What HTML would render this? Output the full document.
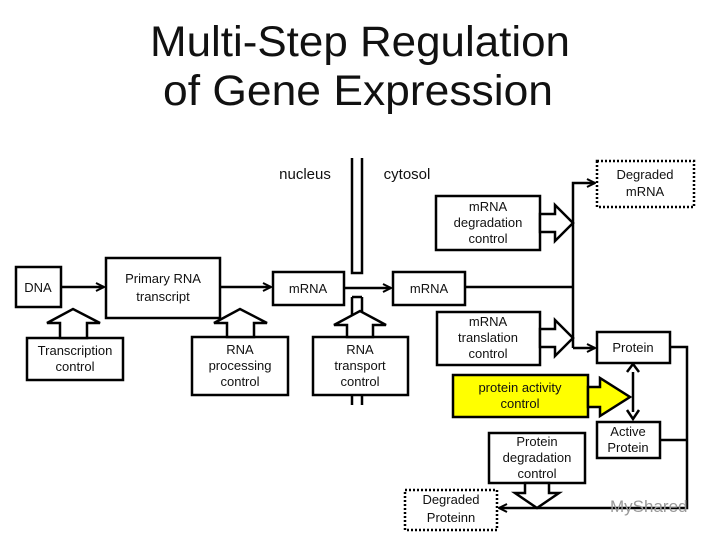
<!DOCTYPE html>
<html><head><meta charset="utf-8"><style>
html,body{margin:0;padding:0;background:#fff;}
svg{display:block;}
text{font-family:"Liberation Sans",sans-serif;fill:#111;}
.t{font-size:13px;text-anchor:middle;}
</style></head><body>
<svg width="720" height="540" viewBox="0 0 720 540" xmlns="http://www.w3.org/2000/svg">
<defs>
<marker id="ah" markerWidth="10" markerHeight="10" refX="9" refY="5" orient="auto" markerUnits="userSpaceOnUse">
<path d="M1,1 L9,5 L1,9" fill="none" stroke="#000" stroke-width="2"/>
</marker>
</defs>
<text x="360" y="56" font-size="43" text-anchor="middle" textLength="420" lengthAdjust="spacingAndGlyphs">Multi-Step Regulation</text>
<text x="358" y="105" font-size="43" text-anchor="middle" textLength="390" lengthAdjust="spacingAndGlyphs">of Gene Expression</text>

<g stroke="#000" stroke-width="2.5" fill="#fff">
<!-- membrane -->
<path d="M352,158 V273 H362 V158" fill="none"/>
<path d="M352,297 V405 M362,297 V405" fill="none"/>
<path d="M352,297 H362"/>
<!-- boxes -->
<rect x="16" y="267" width="45" height="40"/>
<rect x="106" y="258" width="114" height="60"/>
<rect x="273" y="272" width="71" height="33"/>
<rect x="393" y="272" width="72" height="33"/>
<rect x="27" y="338" width="96" height="42"/>
<rect x="192" y="337" width="96" height="58"/>
<rect x="313" y="337" width="95" height="58"/>
<rect x="436" y="196" width="104" height="54"/>
<rect x="437" y="312" width="103" height="53"/>
<rect x="453" y="375" width="135" height="42" fill="#ffff00"/>
<rect x="597" y="332" width="73" height="31"/>
<rect x="597" y="422" width="63" height="36"/>
<rect x="489" y="433" width="96" height="50"/>
<rect x="597" y="161" width="97" height="46" stroke-dasharray="2,2"/>
<rect x="405" y="490" width="92" height="40" stroke-dasharray="2,2"/>
<!-- block arrows -->
<polygon points="60,338 60,323 47,323 73,309 100,323 87,323 87,338"/>
<polygon points="227,337 227,323 214,323 240,309 267,323 254,323 254,337"/>
<polygon points="347,337 347,325 334,325 360,311 386,325 373,325 373,337"/>
<polygon points="540,214 555,214 555,205 573,223 555,241 555,232 540,232"/>
<polygon points="540,329 555,329 555,320 573,338 555,356 555,347 540,347"/>
<polygon points="588,387 600,387 600,378 630,397 600,416 600,407 588,407" fill="#ffff00"/>
<polygon points="525,483 525,493 515,493 537,508 559,493 549,493 549,483"/>
</g>
<g stroke="#000" stroke-width="2.5" fill="none">
<line x1="61" y1="287" x2="104" y2="287" marker-end="url(#ah)"/>
<line x1="220" y1="287" x2="271" y2="287" marker-end="url(#ah)"/>
<line x1="344" y1="288" x2="391" y2="288" marker-end="url(#ah)"/>
<path d="M465,287 H573"/>
<path d="M573,348 V183 H595" marker-end="url(#ah)"/>
<path d="M573,348 H595" marker-end="url(#ah)"/>
<line x1="633" y1="372" x2="633" y2="412"/>
<path d="M627,372 L633,364 L639,372 M627,410 L633,419 L639,410" stroke-width="2.5"/>
<path d="M670,347 H687 V508 H499" marker-end="url(#ah)"/>
<path d="M660,440 H687"/>
</g>
<text x="305" y="179" font-size="15" text-anchor="middle">nucleus</text>
<text x="407" y="179" font-size="15" text-anchor="middle">cytosol</text>
<text class="t" x="38" y="292">DNA</text>
<text class="t" x="163" y="283">Primary RNA</text>
<text class="t" x="163" y="301">transcript</text>
<text class="t" x="308" y="293">mRNA</text>
<text class="t" x="429" y="293">mRNA</text>
<text class="t" x="75" y="355">Transcription</text>
<text class="t" x="75" y="371">control</text>
<text class="t" x="240" y="354">RNA</text>
<text class="t" x="240" y="370">processing</text>
<text class="t" x="240" y="386">control</text>
<text class="t" x="360" y="354">RNA</text>
<text class="t" x="360" y="370">transport</text>
<text class="t" x="360" y="386">control</text>
<text class="t" x="488" y="211">mRNA</text>
<text class="t" x="488" y="227">degradation</text>
<text class="t" x="488" y="243">control</text>
<text class="t" x="488" y="326">mRNA</text>
<text class="t" x="488" y="342">translation</text>
<text class="t" x="488" y="358">control</text>
<text class="t" x="520" y="392">protein activity</text>
<text class="t" x="520" y="408">control</text>
<text class="t" x="633" y="352">Protein</text>
<text class="t" x="628" y="436">Active</text>
<text class="t" x="628" y="452">Protein</text>
<text class="t" x="537" y="446">Protein</text>
<text class="t" x="537" y="462">degradation</text>
<text class="t" x="537" y="478">control</text>
<text class="t" x="645" y="179">Degraded</text>
<text class="t" x="645" y="196">mRNA</text>
<text class="t" x="451" y="504">Degraded</text>
<text class="t" x="451" y="522">Proteinn</text>
<text x="610" y="512" font-size="17" fill="#888" style="fill:#999">MyShared</text>
</svg>
</body></html>
